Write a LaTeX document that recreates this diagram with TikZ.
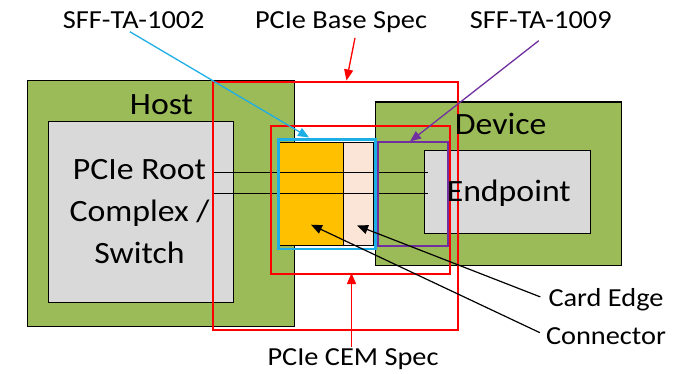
\documentclass[tikz,border=0pt]{standalone}
\usepackage{fontspec}
\setmainfont{Carlito}[FakeStretch=1.09]
\usetikzlibrary{arrows.meta}

\definecolor{boardgreen}{HTML}{9BBB59}
\definecolor{chipgray}{HTML}{D9D9D9}
\definecolor{cardorange}{HTML}{FFC000}
\definecolor{edgepeach}{HTML}{FBE5D6}
\definecolor{specred}{HTML}{FF0000}
\definecolor{sffcyan}{HTML}{1EAEE6}
\definecolor{sffpurple}{HTML}{7030A0}

\begin{document}
\begin{tikzpicture}[x=1pt,y=-1pt,>={Triangle[length=11pt,width=9pt]},
 board/.style={draw=black,line width=1.2pt,fill=boardgreen,anchor=north west,inner sep=0pt},
 chip/.style={draw=black,line width=1pt,fill=chipgray,anchor=north west,inner sep=0pt},
 part/.style={draw=black,line width=1pt,anchor=north west,inner sep=0pt},
 specbox/.style={line width=2pt,anchor=north west,inner sep=0pt},
 big/.style={font=\fontsize{31}{42}\selectfont,align=center,inner sep=1pt},
 lbl/.style={font=\fontsize{26}{30}\selectfont,anchor=base,inner sep=1pt}]
\useasboundingbox (0,0) rectangle (687,374);
% boards and chips
\node[board,minimum width=267pt,minimum height=246pt] (host) at (27,80) {};
\node[chip,minimum width=185pt,minimum height=180pt] (rootcx) at (47.5,121.5) {};
\node[board,minimum width=246pt,minimum height=163pt] (device) at (375,101.5) {};
\node[chip,minimum width=166pt,minimum height=82pt] (endpt) at (424,150.5) {};
\node[part,fill=cardorange,minimum width=65pt,minimum height=102.5pt] (conn) at (278,142) {};
\node[part,fill=edgepeach,minimum width=30pt,minimum height=102.5pt] (edge) at (343,142) {};
% links
\coordinate (lnkA) at (213.5,172.3);
\coordinate (lnkB) at (213.5,193.3);
\draw[line width=1.2pt] (lnkA) -- ([xshift=3.5pt]lnkA -| endpt.west);
\draw[line width=1.2pt] (lnkB) -- ([xshift=3.5pt]lnkB -| endpt.west);
% spec scopes
\node[specbox,draw=sffcyan,line width=2.6pt,minimum width=97pt,minimum height=109pt] (sffa) at (277,138.5) {};
\node[specbox,draw=sffpurple,minimum width=70pt,minimum height=103.5pt] (sffb) at (377,141.5) {};
\node[specbox,draw=specred,minimum width=179pt,minimum height=147.5pt] (cem) at (269.5,125) {};
\node[specbox,draw=specred,minimum width=245pt,minimum height=248pt] (base) at (211.5,81) {};
% texts
\node[big,anchor=base] (hosttxt) at (161.5,115) {Host};
\node[big] (roottxt) at (139.5,212) {PCIe Root\\Complex /\\Switch};
\node[big,anchor=base] (devtxt) at (500.7,135) {Device};
\node[big,anchor=base] (eptxt) at (508.8,201.7) {Endpoint};
\node[lbl] (lbla) at (133.8,28.3) {SFF-TA-1002};
\node[lbl] (lblbase) at (341,28.5) {PCIe Base Spec};
\node[lbl] (lblb) at (540.8,28.3) {SFF-TA-1009};
\node[lbl] (lblcem) at (353,365) {PCIe CEM Spec};
\node[lbl] (lbledge) at (606,306.7) {Card Edge};
\node[lbl] (lblconn) at (606,344) {Connector};
% pointers
\coordinate (tipa) at (309,137.5);
\coordinate (tipbase) at (346.5,80.5);
\coordinate (tipb) at (410,141.5);
\coordinate (tipcem) at (351.5,273);
\coordinate (tipedge) at (357,225.5);
\coordinate (tipconn) at (311,224.7);
\draw[->,sffcyan,line width=1.3pt] ([xshift=-4pt,yshift=-2pt]lbla.south) -- (tipa);
\draw[->,specred,line width=1.3pt] ([xshift=14pt,yshift=-4pt]lblbase.south) -- (tipbase);
\draw[->,sffpurple,line width=1.3pt] ([xshift=-2pt,yshift=-11pt]lblb.south) -- (tipb);
\draw[->,specred,line width=1.3pt] ([xshift=-1.5pt]lblcem.north) -- (tipcem);
\draw[->,line width=1.2pt] ([shift={(-7,-3)}]lbledge.west) -- (tipedge);
\draw[->,line width=1.2pt] ([shift={(-5,-3)}]lblconn.west) -- (tipconn);
\end{tikzpicture}
\end{document}
